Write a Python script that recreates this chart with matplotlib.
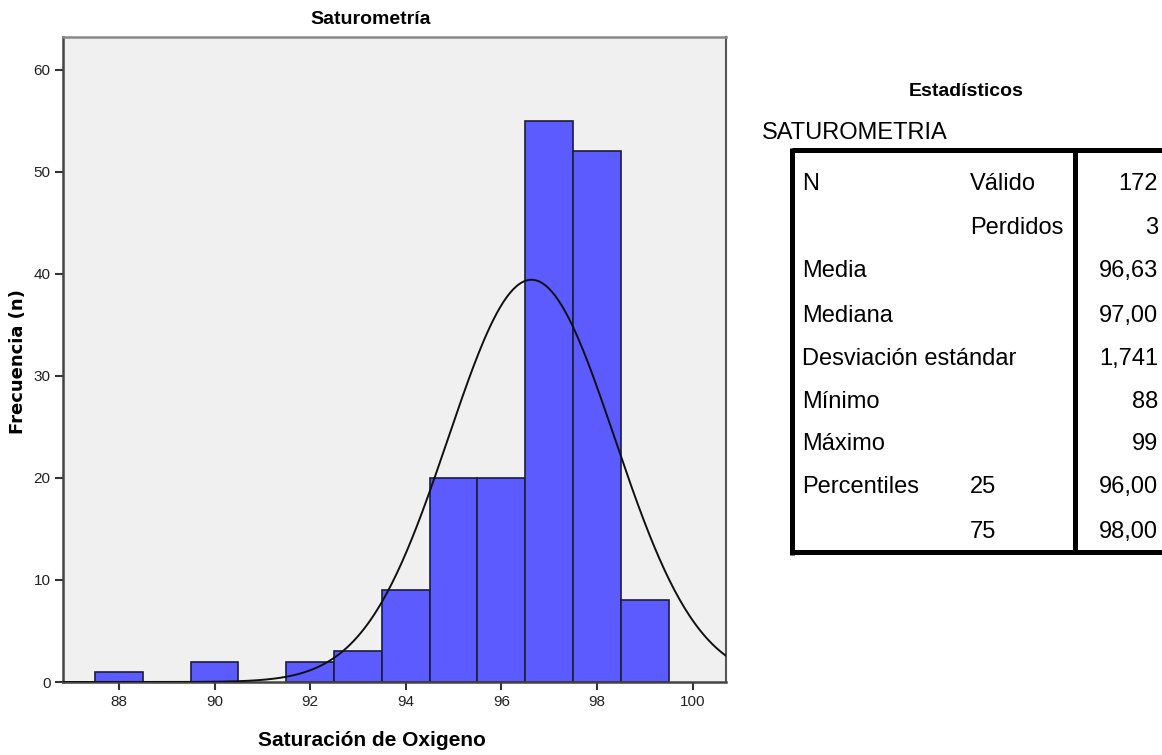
import numpy as np
import matplotlib
matplotlib.use("Agg")
import matplotlib.pyplot as plt
from matplotlib.lines import Line2D

# ---------------- data ----------------
bin_centers = [88, 90, 92, 93, 94, 95, 96, 97, 98, 99]
counts = [1, 2, 2, 3, 9, 20, 20, 55, 52, 8]
n_valid = 172
mean_val = 96.63
sd_val = 1.741

x_ticks = [88, 90, 92, 94, 96, 98, 100]
y_ticks = [0, 10, 20, 30, 40, 50, 60]

table_col1 = ["N", "", "Media", "Mediana", "Desviación estándar", "Mínimo", "Máximo", "Percentiles", ""]
table_col2 = ["Válido", "Perdidos", "", "", "", "", "", "25", "75"]
table_vals = ["172", "3", "96,63", "97,00", "1,741", "88", "99", "96,00", "98,00"]

# ---------------- figure ----------------
W, H = 1162, 755
fig = plt.figure(figsize=(W / 100, H / 100), dpi=100)
fig.patch.set_facecolor("white")

def fx(px):
    return px / W

def fy(py):
    return 1 - py / H

narrow = ["Liberation Sans Narrow", "Liberation Sans", "DejaVu Sans"]
arial = ["Liberation Sans", "DejaVu Sans"]

ax_l, ax_r, ax_t, ax_b = 63, 726, 37, 682
ax = fig.add_axes([fx(ax_l), fy(ax_b), fx(ax_r - ax_l), (ax_b - ax_t) / H])
ax.set_facecolor("#f0f0f0")

ax.bar(bin_centers, counts, width=1.0, color="#5b5bff", edgecolor="#1c1c3a",
       linewidth=1.2, zorder=2)

xmin, xmax = 86.83, 100.7
ax.set_xlim(xmin, xmax)
ax.set_ylim(0, 63.2)

xs = np.linspace(xmin, xmax, 400)
pdf = n_valid * 1.0 / (sd_val * np.sqrt(2 * np.pi)) * np.exp(-0.5 * ((xs - mean_val) / sd_val) ** 2)
ax.plot(xs, pdf, color="#111111", linewidth=1.4, zorder=3)

ax.set_xticks(x_ticks)
ax.set_yticks(y_ticks)
ax.set_xticklabels([str(v) for v in x_ticks], family=narrow, fontsize=11, color="#222222")
ax.set_yticklabels([str(v) for v in y_ticks], family=narrow, fontsize=11, color="#222222")
ax.tick_params(axis="both", direction="out", length=6, width=1.5, color="#333333", pad=3)

for side in ["left", "bottom"]:
    ax.spines[side].set_color("#444444")
    ax.spines[side].set_linewidth(1.8)
ax.spines["top"].set_color("#888888")
ax.spines["top"].set_linewidth(1.8)
ax.spines["right"].set_color("#555555")
ax.spines["right"].set_linewidth(1.5)

fig.text(fx(371), fy(19), "Saturometría", ha="center", va="center",
         family=narrow, fontweight="bold", fontsize=14)
fig.text(fx(372), fy(740), "Saturación de Oxigeno", ha="center", va="center",
         family=narrow, fontweight="bold", fontsize=15)
fig.text(fx(18), fy(362), "Frecuencia (n)", ha="center", va="center", rotation=90,
         family=["DejaVu Sans"], fontweight="bold", fontsize=13)

# ---------------- table ----------------
fs = 17
fig.text(fx(966), fy(91), "Estadísticos", ha="center", va="center",
         family=arial, fontweight="bold", fontsize=14)
fig.text(fx(762), fy(133), "SATUROMETRIA", ha="left", va="center",
         family=arial, fontsize=fs)

t_left, t_right, t_top, t_bot, t_div = 792, 1162, 150, 552, 1075
lw = 5
for (x0, y0, x1, y1) in [(t_left, t_top, t_right, t_top),
                         (t_left, t_bot, t_right, t_bot),
                         (t_left, t_top - 2.5, t_left, t_bot + 2.5),
                         (t_div, t_top, t_div, t_bot)]:
    fig.add_artist(Line2D([fx(x0), fx(x1)], [fy(y0), fy(y1)], color="black",
                          linewidth=lw * 0.72, solid_capstyle="butt",
                          transform=fig.transFigure))

row_y = [184, 228, 271, 316, 359, 402, 444, 487, 532]
for i, yy in enumerate(row_y):
    if table_col1[i]:
        fig.text(fx(802), fy(yy), table_col1[i], ha="left", va="center", family=arial, fontsize=fs)
    if table_col2[i]:
        fig.text(fx(970), fy(yy), table_col2[i], ha="left", va="center", family=arial, fontsize=fs)
    fig.text(fx(1158), fy(yy), table_vals[i], ha="right", va="center", family=arial, fontsize=fs)

fig.savefig("out.png", dpi=100)
